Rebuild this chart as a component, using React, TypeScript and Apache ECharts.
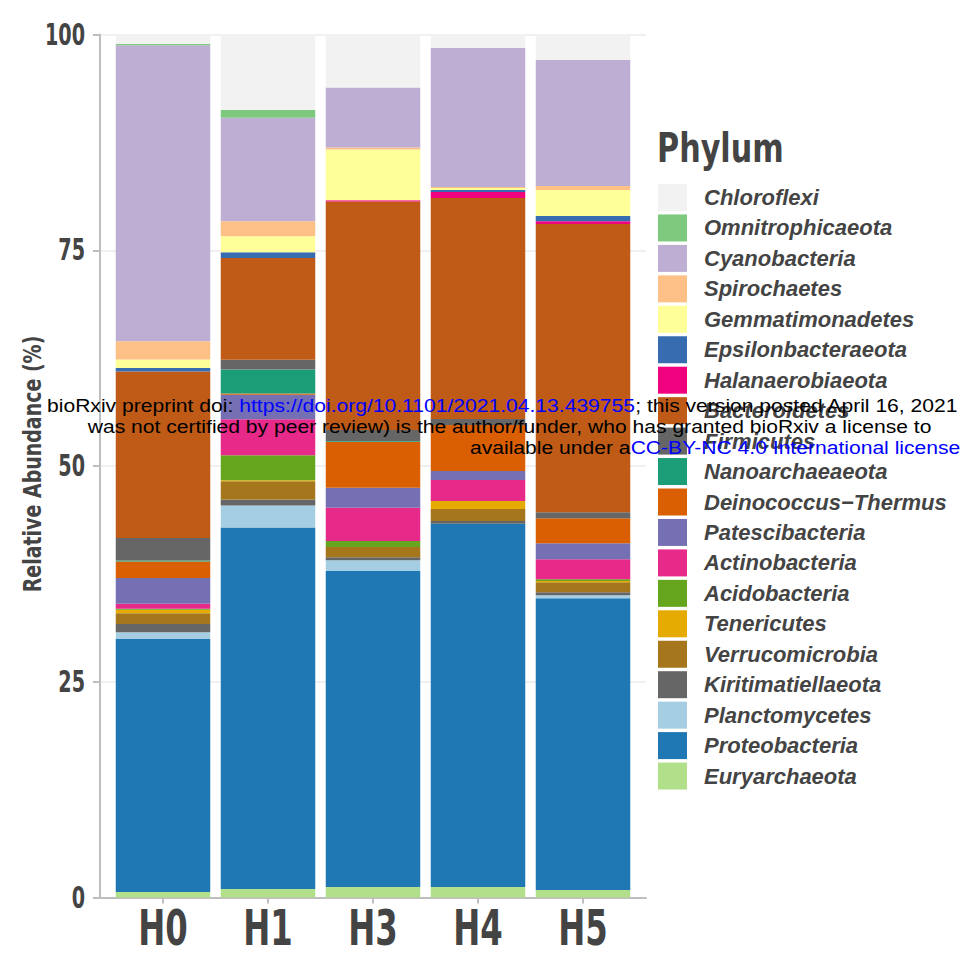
import React, { useEffect, useRef } from 'react';
import * as echarts from 'echarts';

// Sampling sites along the x axis
const categories = ['H0', 'H1', 'H3', 'H4', 'H5'];

// Relative abundance (%) per phylum, one value per site (H0, H1, H3, H4, H5)
const chloroflexi = [1.1, 8.7, 6.1, 1.6, 2.95];
const omnitrophicaeota = [0.15, 0.9, 0, 0, 0];
const cyanobacteria = [34.3, 12.0, 6.95, 16.1, 14.6];
const spirochaetes = [2.1, 1.74, 0.23, 0.12, 0.46];
const gemmatimonadetes = [1.0, 1.85, 5.9, 0.23, 3.0];
const epsilonbacteraeota = [0.4, 0.66, 0, 0.23, 0.62];
const halanaerobiaeota = [0, 0, 0.12, 0.7, 0.31];
const bacteroidetes = [19.3, 11.8, 26.5, 25.6, 33.4];
const firmicutes = [2.6, 1.12, 1.27, 0.7, 0.7];
const nanoarchaeaeota = [0.12, 2.8, 0.08, 0, 0];
const deinococcusThermus = [1.9, 0.12, 5.33, 5.33, 2.9];
const patescibacteria = [3.0, 2.86, 2.32, 1.04, 1.85];
const actinobacteria = [0.58, 4.17, 3.86, 2.43, 2.32];
const acidobacteria = [0.1, 2.9, 0.7, 0, 0.2];
const tenericutes = [0.4, 0.12, 0, 0.93, 0.15];
const verrucomicrobia = [1.27, 2.09, 1.16, 1.39, 1.16];
const kiritimatiellaeota = [0.93, 0.7, 0.35, 0.31, 0.35];
const planctomycetes = [0.81, 2.55, 1.27, 0, 0.35];
const proteobacteria = [29.3, 41.9, 36.6, 42.1, 33.8];
const euryarchaeota = [0.64, 0.98, 1.22, 1.22, 0.87];

// y-axis ticks
const yTicks = [0, 25, 50, 75, 100];

// Stack order from the bottom of each bar to the top: [name, colour, values]
const phylumStack: [string, string, number[]][] = [
  ['Euryarchaeota', '#B2DF8A', euryarchaeota],
  ['Proteobacteria', '#1F78B4', proteobacteria],
  ['Planctomycetes', '#A6CEE3', planctomycetes],
  ['Kiritimatiellaeota', '#666666', kiritimatiellaeota],
  ['Verrucomicrobia', '#A6761D', verrucomicrobia],
  ['Tenericutes', '#E6AB02', tenericutes],
  ['Acidobacteria', '#66A61E', acidobacteria],
  ['Actinobacteria', '#E7298A', actinobacteria],
  ['Patescibacteria', '#7570B3', patescibacteria],
  ['Deinococcus\u2212Thermus', '#D95F02', deinococcusThermus],
  ['Nanoarchaeaeota', '#1B9E77', nanoarchaeaeota],
  ['Firmicutes', '#666666', firmicutes],
  ['Bacteroidetes', '#BF5B17', bacteroidetes],
  ['Halanaerobiaeota', '#F0027F', halanaerobiaeota],
  ['Epsilonbacteraeota', '#386CB0', epsilonbacteraeota],
  ['Gemmatimonadetes', '#FFFF99', gemmatimonadetes],
  ['Spirochaetes', '#FDC086', spirochaetes],
  ['Cyanobacteria', '#BEAED4', cyanobacteria],
  ['Omnitrophicaeota', '#7FC97F', omnitrophicaeota],
  ['Chloroflexi', '#F2F2F2', chloroflexi],
];

const HEAVY = '"DejaVu Sans", Verdana, sans-serif';
const SANS = '"Liberation Sans", Arial, Helvetica, sans-serif';
const AXIS_GREY = '#bebebe';
const TEXT_GREY = '#444444';

const catIndex = categories.map((_, i) => i);

// Panel: 0.6 of a band of padding on each side of the five bars
const PANEL_LEFT = 100;
const PANEL_RIGHT = 317;
const PANEL_TOP = 34.5;
const PANEL_BOTTOM = 64.5;
const BAND = (963 - PANEL_LEFT - PANEL_RIGHT) / (categories.length + 0.2);

function buildOption(): echarts.EChartsOption {
  const series = phylumStack.map(([name, color, values]) => ({
    type: 'bar' as const,
    name,
    stack: 'abundance',
    xAxisIndex: 1,
    yAxisIndex: 1,
    barWidth: '90%',
    itemStyle: { color },
    emphasis: { disabled: true },
    data: values,
  }));

  return {
    animation: false,
    backgroundColor: '#ffffff',
    grid: [
      { left: PANEL_LEFT, right: PANEL_RIGHT, top: PANEL_TOP, bottom: PANEL_BOTTOM, outerBoundsMode: 'none' },
      {
        left: PANEL_LEFT + 0.1 * BAND,
        right: PANEL_RIGHT + 0.1 * BAND,
        top: PANEL_TOP,
        bottom: PANEL_BOTTOM,
        outerBoundsMode: 'none',
      },
    ] as any,
    xAxis: [
      {
        gridIndex: 0,
        type: 'value',
        min: -0.6,
        max: categories.length - 0.4,
        splitLine: { show: false },
        axisLine: { show: true, onZero: false, lineStyle: { color: AXIS_GREY, width: 2 } },
        axisTick: {
          show: true,
          customValues: catIndex,
          length: 6,
          lineStyle: { color: AXIS_GREY, width: 2 },
        },
        axisLabel: { show: false },
      },
      {
        gridIndex: 1,
        type: 'category',
        data: categories,
        show: false,
      },
    ] as any,
    yAxis: [
      {
        gridIndex: 0,
        type: 'value',
        min: yTicks[0],
        max: yTicks[yTicks.length - 1],
        interval: 25,
        axisLine: { show: true, onZero: false, lineStyle: { color: AXIS_GREY, width: 2 } },
        axisTick: { show: true, length: 7, lineStyle: { color: AXIS_GREY, width: 2 } },
        axisLabel: { show: false },
        splitLine: { show: true, lineStyle: { color: '#ebebeb', width: 1.5 } },
      },
      {
        gridIndex: 1,
        type: 'value',
        min: yTicks[0],
        max: yTicks[yTicks.length - 1],
        show: false,
      },
    ],
    legend: {
      orient: 'vertical',
      left: 658,
      top: 184,
      padding: 0,
      itemWidth: 29,
      itemHeight: 27,
      itemGap: 3.45,
      icon: 'rect',
      selectedMode: false,
      data: phylumStack.map(([name]) => name).reverse(),
      textStyle: {
        fontFamily: SANS,
        fontStyle: 'italic',
        fontWeight: 'bold',
        fontSize: 22,
        color: TEXT_GREY,
        padding: [0, 0, 0, 12],
      },
    },
    series,
  };
}

// Condensed heavy labels, placed through the axes' own pixel conversion
function buildGraphic(chart: echarts.ECharts) {
  const px = (v: number) => chart.convertToPixel({ xAxisIndex: 0 }, v) as number;
  const py = (v: number) => chart.convertToPixel({ yAxisIndex: 0 }, v) as number;

  const heavyText = (text: string, x: number, y: number, size: number, sx: number, align: string, extra: any = {}) => ({
    type: 'text',
    x,
    y,
    scaleX: sx,
    silent: true,
    ...extra,
    style: {
      text,
      fontFamily: HEAVY,
      fontWeight: 'bold',
      fontSize: size,
      fill: TEXT_GREY,
      align,
      verticalAlign: 'middle',
    },
  });

  const xLabels = categories.map((c, i) => heavyText(c, px(i), 927.5, 50.5, 0.64, 'center'));
  const yLabels = yTicks.map((t) => heavyText(String(t), 85, py(t), 30, 0.64, 'right'));
  const yTitle = heavyText('Relative Abundance (%)', 31.5, py(50) - 2, 25, 0.76, 'center', { rotation: Math.PI / 2 });
  const legendTitle = heavyText('Phylum', 657, 148, 41, 0.737, 'left');

  const wmRich = {
    t: { fontSize: 18.5, fontFamily: SANS, fill: '#000000' },
    u: { fontSize: 18.5, fontFamily: SANS, fill: '#0000FF' },
  };
  const wmLine = (text: string, x: number, y: number) => ({
    type: 'text',
    x,
    y,
    z: 100,
    scaleX: 1.14,
    silent: true,
    style: { text, rich: wmRich, fontSize: 18.5, fontFamily: SANS, verticalAlign: 'middle' },
  });

  const watermark = [
    wmLine('{t|bioRxiv preprint doi: }{u|https://doi.org/10.1101/2021.04.13.439755}{t|; this version posted April 16, 2021}', 47, 405),
    wmLine('{t|was not certified by peer review) is the author/funder, who has granted bioRxiv a license to}', 87.7, 426),
    wmLine('{t|available under a}{u|CC-BY-NC 4.0 International license}', 470, 447),
  ];

  return [...xLabels, ...yLabels, yTitle, legendTitle, ...watermark];
}

export default function App() {
  const ref = useRef<HTMLDivElement>(null);

  useEffect(() => {
    if (!ref.current) return;
    const chart = echarts.init(ref.current, null, { renderer: 'svg' });
    chart.setOption(buildOption());
    chart.setOption({ graphic: buildGraphic(chart) } as any);
    return () => chart.dispose();
  }, []);

  return (
    <div
      ref={ref}
      style={{ position: 'absolute', left: 0, top: 0, width: 963, height: 962, background: '#ffffff' }}
    />
  );
}
